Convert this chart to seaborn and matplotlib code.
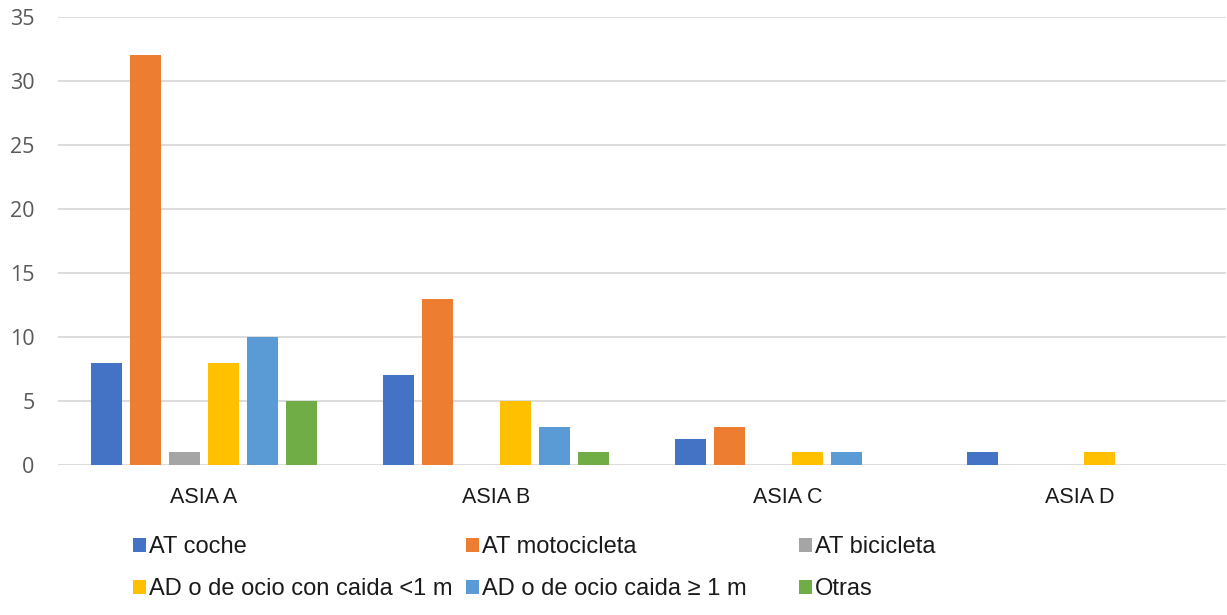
import numpy as np
import pandas as pd
import matplotlib
matplotlib.use("Agg")
import matplotlib.pyplot as plt
import seaborn as sns

categories = ["ASIA A", "ASIA B", "ASIA C", "ASIA D"]
series = ["AT coche", "AT motocicleta", "AT bicicleta",
          "AD o de ocio con caida <1 m", "AD o de ocio caida \u2265 1 m", "Otras"]
at_coche = [8, 7, 2, 1]
at_moto = [32, 13, 3, 0]
at_bici = [1, 0, 0, 0]
ad_menor = [8, 5, 1, 1]
ad_mayor = [10, 3, 1, 0]
otras = [5, 1, 0, 0]
colors = ["#4472C4", "#ED7D31", "#A5A5A5", "#FFC000", "#5B9BD5", "#70AD47"]

values = [at_coche, at_moto, at_bici, ad_menor, ad_mayor, otras]
rows = []
for name, vals in zip(series, values):
    for cat, v in zip(categories, vals):
        rows.append({"Region": cat, "Tipo": name, "Casos": v})
df = pd.DataFrame(rows)

sns.set_theme(style="white")
plt.rcParams["font.family"] = ["Liberation Sans", "DejaVu Sans"]

fig = plt.figure(figsize=(12.27, 6.15), dpi=100)
ax = fig.add_axes([58 / 1227, 1 - 465 / 615, 1 - 58 / 1227 - 1 / 1227, (465 - 17) / 615])

sns.barplot(data=df, x="Region", y="Casos", hue="Tipo", order=categories,
            hue_order=series, palette=colors, width=0.80, gap=0.2,
            linewidth=0, saturation=1, errorbar=None, ax=ax)

handles, labels = ax.get_legend_handles_labels()
ax.get_legend().remove()

ax.set_ylim(0, 35)
ax.set_yticks(np.arange(0, 36, 5))
ax.set_xlim(-0.5, 3.5)
ax.yaxis.grid(True, color="#D9D9D9", linewidth=1.3)
ax.set_axisbelow(True)
for s in ax.spines.values():
    s.set_visible(False)
ax.set_xlabel("")
ax.set_ylabel("")
ax.tick_params(axis="y", length=0, pad=17, labelsize=15.5, labelcolor="#595959")
ax.tick_params(axis="x", length=0, pad=16, labelsize=15.5, labelcolor="#1a1a1a")
for t in ax.get_yticklabels():
    t.set_fontfamily(["Open Sans", "DejaVu Sans"])

# legend laid out as three equal-width columns below the plot
col_x = [133 / 1227, 466 / 1227, 799 / 1227]
for j in range(3):
    hs = [handles[j], handles[j + 3]]
    ls = [labels[j], labels[j + 3]]
    fig.legend(hs, ls, loc="upper left", bbox_to_anchor=(col_x[j], 1 - 536 / 615),
               ncol=1, frameon=False, fontsize=17, handlelength=0.53,
               handleheight=0.53, handletextpad=0.15, labelspacing=0.86,
               borderaxespad=0, borderpad=0, labelcolor="#1a1a1a")

fig.savefig("out.png", dpi=100)
